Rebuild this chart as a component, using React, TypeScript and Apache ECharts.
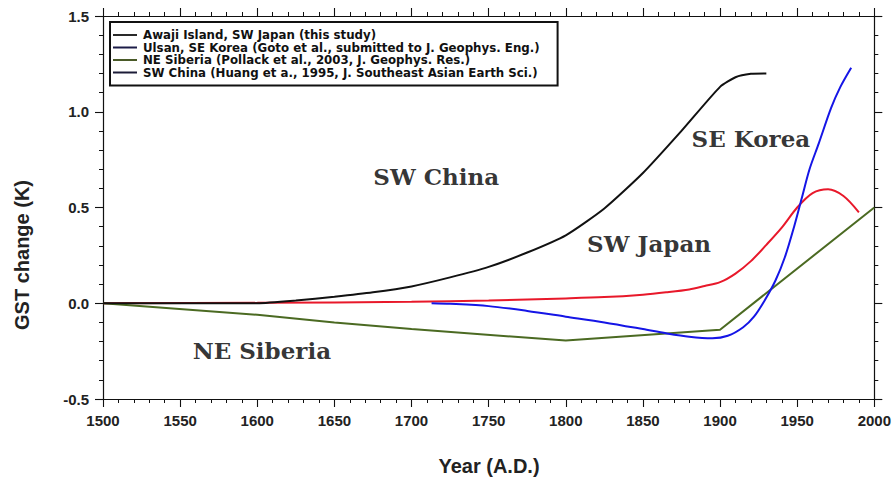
import React, { useEffect, useRef } from "react";
import * as echarts from "echarts";

// ---- data ----
const chinaYears = [1500, 1550, 1600, 1625, 1650, 1675, 1700, 1725, 1750, 1775, 1800, 1825, 1850, 1875, 1900, 1910, 1920, 1930];
const chinaVals = [0, 0, 0, 0.014, 0.034, 0.057, 0.088, 0.135, 0.19, 0.265, 0.355, 0.495, 0.68, 0.9, 1.13, 1.18, 1.198, 1.2];

const japanYears = [1500, 1600, 1700, 1750, 1800, 1825, 1850, 1865, 1880, 1890, 1900, 1910, 1920, 1930, 1940, 1950, 1960, 1970, 1980, 1990];
const japanVals = [0, 0.002, 0.008, 0.014, 0.025, 0.032, 0.045, 0.057, 0.072, 0.09, 0.11, 0.155, 0.22, 0.305, 0.395, 0.5, 0.575, 0.595, 0.56, 0.475];

const koreaYears = [1713, 1725, 1750, 1775, 1800, 1825, 1850, 1865, 1880, 1895, 1905, 1915, 1922, 1929, 1936, 1942, 1948, 1953, 1958, 1964, 1972, 1978, 1985];
const koreaVals = [0, -0.003, -0.015, -0.04, -0.07, -0.1, -0.135, -0.157, -0.175, -0.183, -0.17, -0.125, -0.07, 0.016, 0.12, 0.24, 0.4, 0.55, 0.7, 0.835, 1.02, 1.13, 1.23];

const siberiaYears = [1500, 1600, 1650, 1700, 1800, 1900, 2000];
const siberiaVals = [0, -0.06, -0.1, -0.135, -0.195, -0.138, 0.5];

const legendNames = [
  "Awaji Island, SW Japan (this study)",
  "Ulsan, SE Korea (Goto et al., submitted to J. Geophys. Eng.)",
  "NE Siberia (Pollack et al., 2003, J. Geophys. Res.)",
  "SW China (Huang et a., 1995, J. Southeast Asian Earth Sci.)",
];
const legendColors = ["#2a2a2a", "#1c1c48", "#4a5a28", "#1c1c38"];

const regionLabels = ["SW China", "SE Korea", "SW Japan", "NE Siberia"];
const regionYears = [1716, 1920, 1854, 1603];
const regionVals = [0.66, 0.86, 0.31, -0.245];

const zip = (xs: number[], ys: number[]) => xs.map((x, i) => [x, ys[i]]);

export default function App() {
  const ref = useRef<HTMLDivElement>(null);
  useEffect(() => {
    if (!ref.current) return;
    const chart = echarts.init(ref.current, null, { renderer: "svg" });
    const sans = "Liberation Sans";
    const axisCommon = {
      axisLine: { show: true, onZero: false, lineStyle: { color: "#111", width: 1.2 } },
      axisTick: { show: true, inside: false, length: 8, lineStyle: { color: "#111", width: 1.1 } },
      minorTick: { show: true, splitNumber: 5, length: 4, lineStyle: { color: "#111", width: 1 } },
      splitLine: { show: false },
    };
    chart.setOption({
      animation: false,
      backgroundColor: "#fff",
      grid: { left: 103, right: 19, top: 16, bottom: 78 },
      legend: {
        orient: "vertical",
        left: 110,
        top: 22,
        icon: "rect",
        itemWidth: 24,
        itemHeight: 2,
        itemGap: 0.5,
        padding: [7, 18, 7, 3],
        borderColor: "#111",
        borderWidth: 2,
        selectedMode: false,
        textStyle: { fontFamily: "DejaVu Sans", fontWeight: "bold", fontSize: 11.8, color: "#111", lineHeight: 12, padding: [0, 0, 0, 1] },
        data: legendNames.map((n, i) => ({ name: n, itemStyle: { color: legendColors[i] } })),
      },
      xAxis: [
        {
          type: "value", min: 1500, max: 2000, interval: 50, position: "bottom",
          ...axisCommon,
          axisLabel: { fontFamily: sans, fontWeight: "bold", fontSize: 15, color: "#222", margin: 14, formatter: (v: number) => String(v) },
        },
        {
          type: "value", min: 1500, max: 2000, interval: 50, position: "top",
          ...axisCommon,
          axisLabel: { show: false },
        },
      ],
      yAxis: [
        {
          type: "value", min: -0.5, max: 1.5, interval: 0.5, position: "left",
          ...axisCommon,
          axisLabel: { fontFamily: sans, fontWeight: "bold", fontSize: 15, color: "#222", margin: 14, formatter: (v: number) => v.toFixed(1) },
        },
        {
          type: "value", min: -0.5, max: 1.5, interval: 0.5, position: "right",
          ...axisCommon,
          axisLabel: { show: false },
        },
      ],
      graphic: [
        {
          type: "text", x: 22, y: 255, rotation: Math.PI / 2,
          style: { text: "GST change (K)", fontFamily: sans, fontWeight: "bold", fontSize: 20, fill: "#222", align: "center", verticalAlign: "middle" },
        },
        {
          type: "text", x: 489, y: 466,
          style: { text: "Year (A.D.)", fontFamily: sans, fontWeight: "bold", fontSize: 20, fill: "#222", align: "center", verticalAlign: "middle" },
        },
      ],
      series: [
        {
          name: legendNames[0], type: "line", data: zip(japanYears, japanVals), showSymbol: false, symbol: "none",
          smooth: 0.3, lineStyle: { color: "#e8182a", width: 2 }, itemStyle: { color: "#e8182a" }, z: 2,
        },
        {
          name: legendNames[1], type: "line", data: zip(koreaYears, koreaVals), showSymbol: false, symbol: "none",
          smooth: 0.3, lineStyle: { color: "#1515e6", width: 2 }, itemStyle: { color: "#1515e6" }, z: 3,
        },
        {
          name: legendNames[2], type: "line", data: zip(siberiaYears, siberiaVals), showSymbol: false, symbol: "none",
          lineStyle: { color: "#4b6a22", width: 2 }, itemStyle: { color: "#4b6a22" }, z: 2,
        },
        {
          name: legendNames[3], type: "line", data: zip(chinaYears, chinaVals), showSymbol: false, symbol: "none",
          smooth: 0.2, lineStyle: { color: "#111", width: 2 }, itemStyle: { color: "#111" }, z: 4,
        },
        {
          name: "labels", type: "scatter", symbolSize: 0, silent: true,
          data: regionLabels.map((n, i) => ({ name: n, value: [regionYears[i], regionVals[i]] })),
          label: {
            show: true, position: "inside", formatter: (p: any) => p.name,
            fontFamily: "DejaVu Serif", fontWeight: "bold", fontSize: 23, color: "#000",
          },
        },
      ],
    });
    return () => chart.dispose();
  }, []);
  return <div ref={ref} style={{ width: 894, height: 477, position: "absolute", left: 0, top: 0 }} />;
}
